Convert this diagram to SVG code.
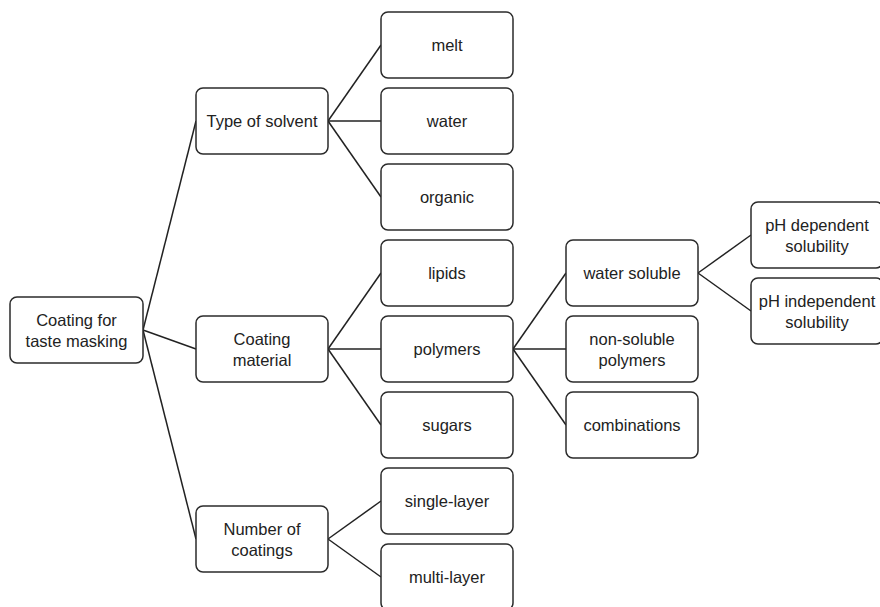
<svg xmlns="http://www.w3.org/2000/svg" width="880" height="607" viewBox="0 0 880 607">
<style>
rect{fill:#fff;stroke:#2b2b2b;stroke-width:1.5}
text{font-family:"Liberation Sans",Arial,sans-serif;font-size:16.5px;fill:#222;text-anchor:middle;dominant-baseline:central}
#connectors line{stroke:#222;stroke-width:1.5}
</style>
<rect x="0" y="0" width="880" height="607" style="fill:#fff;stroke:none"/>
<g id="connectors">
<line x1="143" y1="330" x2="196" y2="121"/>
<line x1="143" y1="330" x2="196" y2="349"/>
<line x1="143" y1="330" x2="196" y2="539"/>
<line x1="328" y1="121" x2="381" y2="45"/>
<line x1="328" y1="121" x2="381" y2="121"/>
<line x1="328" y1="121" x2="381" y2="197"/>
<line x1="328" y1="349" x2="381" y2="273"/>
<line x1="328" y1="349" x2="381" y2="349"/>
<line x1="328" y1="349" x2="381" y2="425"/>
<line x1="328" y1="539" x2="381" y2="501"/>
<line x1="328" y1="539" x2="381" y2="577"/>
<line x1="513" y1="349" x2="566" y2="273"/>
<line x1="513" y1="349" x2="566" y2="349"/>
<line x1="513" y1="349" x2="566" y2="425"/>
<line x1="698" y1="273" x2="751" y2="235"/>
<line x1="698" y1="273" x2="751" y2="311"/>
</g>
<g id="root"><rect x="10" y="297" width="133" height="66" rx="7"/><text x="76.5" y="320">Coating for</text><text x="76.5" y="341">taste masking</text></g>
<g id="solvent"><rect x="196" y="88" width="132" height="66" rx="7"/><text x="262" y="121">Type of solvent</text></g>
<g id="material"><rect x="196" y="316" width="132" height="66" rx="7"/><text x="262" y="339">Coating</text><text x="262" y="360">material</text></g>
<g id="number"><rect x="196" y="506" width="132" height="66" rx="7"/><text x="262" y="529">Number of</text><text x="262" y="550">coatings</text></g>
<g id="melt"><rect x="381" y="12" width="132" height="66" rx="7"/><text x="447" y="45">melt</text></g>
<g id="water"><rect x="381" y="88" width="132" height="66" rx="7"/><text x="447" y="121">water</text></g>
<g id="organic"><rect x="381" y="164" width="132" height="66" rx="7"/><text x="447" y="197">organic</text></g>
<g id="lipids"><rect x="381" y="240" width="132" height="66" rx="7"/><text x="447" y="273">lipids</text></g>
<g id="polymers"><rect x="381" y="316" width="132" height="66" rx="7"/><text x="447" y="349">polymers</text></g>
<g id="sugars"><rect x="381" y="392" width="132" height="66" rx="7"/><text x="447" y="425">sugars</text></g>
<g id="single"><rect x="381" y="468" width="132" height="66" rx="7"/><text x="447" y="501">single-layer</text></g>
<g id="multi"><rect x="381" y="544" width="132" height="66" rx="7"/><text x="447" y="577">multi-layer</text></g>
<g id="watersoluble"><rect x="566" y="240" width="132" height="66" rx="7"/><text x="632" y="273">water soluble</text></g>
<g id="nonsoluble"><rect x="566" y="316" width="132" height="66" rx="7"/><text x="632" y="339">non-soluble</text><text x="632" y="360">polymers</text></g>
<g id="combinations"><rect x="566" y="392" width="132" height="66" rx="7"/><text x="632" y="425">combinations</text></g>
<g id="phdep"><rect x="751" y="202" width="132" height="66" rx="7"/><text x="817" y="225">pH dependent</text><text x="817" y="246">solubility</text></g>
<g id="phindep"><rect x="751" y="278" width="132" height="66" rx="7"/><text x="817" y="301">pH independent</text><text x="817" y="322">solubility</text></g>
</svg>
